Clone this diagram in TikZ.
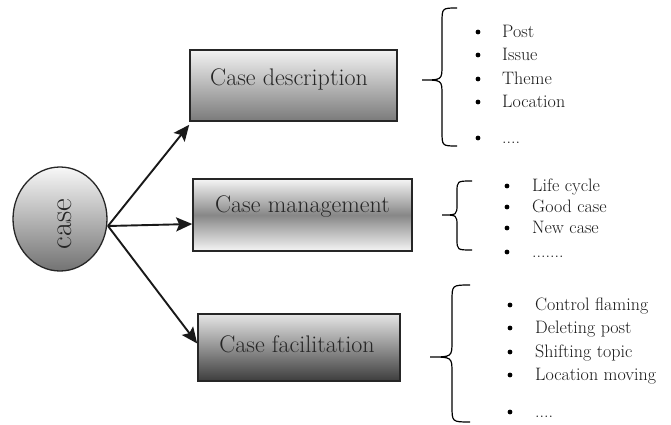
\documentclass[tikz,border=0pt]{standalone}
\usetikzlibrary{shapes.geometric,arrows.meta}
\newcommand\mybrace[7]{% xl xm xr yt ym yb r
  \draw[bracestyle] (#3,#4) .. controls (#2,#4) .. (#2,#4+#7) -- (#2,#5-#7)
    .. controls (#2,#5) .. (#1,#5) .. controls (#2,#5) .. (#2,#5+#7)
    -- (#2,#6-#7) .. controls (#2,#6) .. (#3,#6);}
\newcommand\myfourdots{....}
\newcommand\mysevendots{.......}
\tikzset{
  boxbase/.style={draw=black!85, line width=1.6pt, rectangle, inner sep=0pt},
  boxtext/.style={font=\fontsize{24}{28}\selectfont, text=black!85, inner sep=0pt},
  itemtext/.style={font=\fontsize{18}{21}\selectfont, text=black!90, anchor=base west, inner sep=0pt},
  bul/.style={fill=black, circle, inner sep=0pt, minimum size=4.8pt},
  arr/.style={line width=1.9pt, draw=black!90, -{Stealth[length=16pt,width=14pt,inset=3pt]}},
  bracestyle/.style={line width=1.2pt, black}
}
\begin{document}
\begin{tikzpicture}[x=1pt,y=-1pt]
\useasboundingbox (0,0) rectangle (671,425);
% center ellipse
\node[ellipse, draw=black!85, line width=1.3pt, minimum width=94pt, minimum height=104pt,
  inner sep=0pt, top color=black!3, bottom color=black!55] (c) at (60,219) {};
\node[rotate=90, font=\fontsize{31}{34}\selectfont, text=black!85, inner sep=0pt] (ct) at (65,224) {case};
% boxes
\node[boxbase, minimum width=207pt, minimum height=71pt, top color=black!5, bottom color=black!52] (d) at (293.5,85.5) {};
\node[boxtext] (dt) at (289,79) {Case description};
\node[boxbase, minimum width=219pt, minimum height=72pt, top color=black!4, bottom color=black!4, middle color=black!47] (m) at (302.5,215) {};
\node[boxtext] (mt) at (302.5,207) {Case management};
\node[boxbase, minimum width=202pt, minimum height=67pt, top color=black!10, bottom color=black!76] (f) at (299,347.5) {};
\node[boxtext] (ft) at (297,344) {Case facilitation};
% arrows
\coordinate (s) at (108,226);
\draw[arr] (s) -- ([yshift=-3pt]d.south west);
\draw[arr] (s) -- ([yshift=-9pt]m.west);
\draw[arr] (s) -- ([yshift=4pt]f.west);
% braces
\mybrace{422}{442}{457}{8}{80}{146}{15}
\mybrace{442}{457}{472}{181}{215}{250}{11}
\mybrace{430}{452}{470}{285}{357}{422}{16}
% list 1
\foreach \y/\t [count=\i] in {32/Post,55/Issue,79/Theme,102/Location,138/\myfourdots}{
  \node[bul] (ba\i) at (478,\y) {};
  \node[itemtext] (ta\i) at (502,\y+5.5) {\t};
}
% list 2
\foreach \y/\t [count=\i] in {186/Life cycle,207/Good case,228/New case,252/\mysevendots}{
  \node[bul] (bb\i) at (507,\y) {};
  \node[itemtext] (tb\i) at (532,\y+5.5) {\t};
}
% list 3
\foreach \y/\t [count=\i] in {305/Control flaming,328/Deleting post,352/Shifting topic,375/Location moving,412/\myfourdots}{
  \node[bul] (bc\i) at (510,\y) {};
  \node[itemtext] (tc\i) at (535,\y+5.5) {\t};
}
\end{tikzpicture}
\end{document}
